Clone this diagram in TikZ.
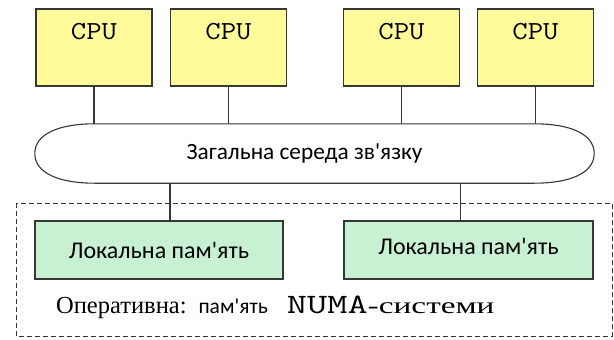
\documentclass[tikz,border=0pt]{standalone}
\usepackage{fontspec}
\newfontfamily\cpufont[FakeStretch=1.15]{Latin Modern Mono}
\newfontfamily\numafont[FakeStretch=1.4]{Latin Modern Mono}
\newfontfamily\busfont{Carlito}
\newfontfamily\ramfont{Liberation Serif}
\newfontfamily\wideramfont[FakeStretch=1.45]{Liberation Serif}
\usetikzlibrary{shapes.geometric}
\definecolor{cpuyellow}{RGB}{255,251,155}
\definecolor{memgreen}{RGB}{200,240,210}
\definecolor{edgegray}{RGB}{55,55,55}

\begin{document}
\begin{tikzpicture}[x=1pt, y=-1pt,
    cpubox/.style={shape=rectangle, draw=edgegray, fill=cpuyellow, line width=1.1pt,
                   minimum width=116pt, minimum height=77pt, inner sep=0pt},
    membox/.style={shape=rectangle, draw=edgegray, fill=memgreen, line width=1.1pt,
                   minimum width=248pt, minimum height=58pt, inner sep=0pt,
                   font=\busfont\fontsize{24}{24}\selectfont},
    cputext/.style={inner sep=0pt, font=\cpufont\fontsize{26}{26}\selectfont},
    wire/.style={draw=edgegray, line width=1.1pt}]
  \useasboundingbox (0,0) rectangle (614,340);

  % memory frame
  \draw [edgegray, line width=0.9pt, dash pattern=on 5pt off 3pt] (16,203) rectangle (612,336);

  \path ( 94, 47.5) node [cpubox] (cpu1) {}
        (228.5, 47.5) node [cpubox] (cpu2) {}
        (401.5, 47.5) node [cpubox] (cpu3) {}
        (535.5, 47.5) node [cpubox] (cpu4) {}
        (314.5, 153.5) node [minimum width=559pt, minimum height=59pt, inner sep=0pt,
                             font=\busfont\fontsize{23.3}{23.3}\selectfont] (bus) {\hspace*{-20pt}Загальна середа зв'язку}
        (159, 250) node [membox] (mem1) {Локальна пам'ять}
        (468.5, 250) node [membox, minimum width=249pt, text depth=7pt] (mem2) {Локальна пам'ять}
  ;
  \foreach \c in {cpu1,cpu2,cpu3,cpu4}
    \path (\c.north) ++(0,23) node [cputext] {CPU};

  % bus outline
  \draw [wire] (bus.west) .. controls +(0,-20) and +(-35,0) .. ([xshift=60pt]bus.north west)
        -- ([xshift=-60pt]bus.north east) .. controls +(35,0) and +(0,-20) .. (bus.east)
        .. controls +(0,20) and +(35,0) .. ([xshift=-60pt]bus.south east)
        -- ([xshift=60pt]bus.south west) .. controls +(-35,0) and +(0,20) .. (bus.west);

  \foreach \c in {cpu1,cpu2,cpu3,cpu4}
    \draw [wire] (\c.south) -- (\c.south |- bus.north);
  \draw [wire] (bus.south -| cpu2.west) -- (mem1.north -| cpu2.west);
  \draw [wire] (bus.south -| cpu3.east) -- (mem2.north -| cpu3.east);

  \path (56, 307) node [anchor=west, inner sep=0pt]
    {{\ramfont\fontsize{24.5}{24.5}\selectfont Оперативна:}\hspace{12pt}{\busfont\fontsize{21.5}{21.5}\selectfont пам'ять}\hspace{19pt}{\numafont\fontsize{28}{28}\selectfont NUMA}{\wideramfont\fontsize{23}{23}\selectfont -системи}};
\end{tikzpicture}
\end{document}
